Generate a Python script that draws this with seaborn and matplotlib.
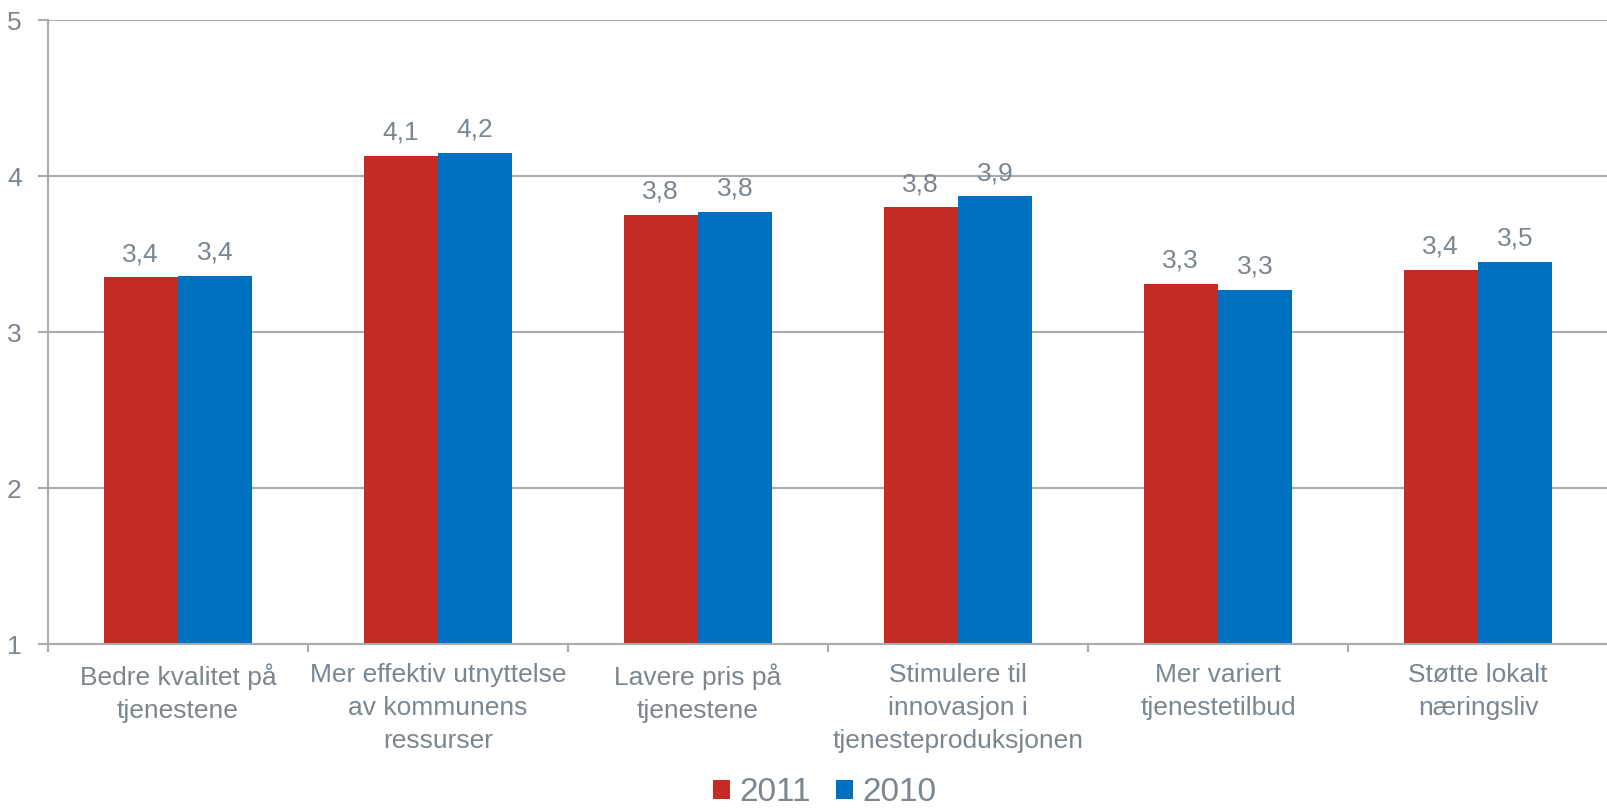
import pandas as pd
import seaborn as sns
import matplotlib.pyplot as plt
from matplotlib.ticker import FixedLocator

# Data
kategorier = [
    "Bedre kvalitet på\ntjenestene",
    "Mer effektiv utnyttelse\nav kommunens\nressurser",
    "Lavere pris på\ntjenestene",
    "Stimulere til\ninnovasjon i\ntjenesteproduksjonen",
    "Mer variert\ntjenestetilbud",
    "Støtte lokalt\nnæringsliv",
]
verdier_2011 = [3.35, 4.13, 3.75, 3.80, 3.31, 3.40]
verdier_2010 = [3.36, 4.15, 3.77, 3.87, 3.27, 3.45]
aar = ["2011", "2010"]
farger = ["#C42B25", "#0070C0"]

TEKST = "#7A8690"
GRID = "#A9ACAF"

df = pd.DataFrame({
    "kategori": kategorier * 2,
    "aar": [aar[0]] * len(kategorier) + [aar[1]] * len(kategorier),
    "verdi": verdier_2011 + verdier_2010,
})

sns.set_style("white")
plt.rcParams["font.family"] = ["Liberation Sans", "DejaVu Sans"]

fig = plt.figure(figsize=(16.08, 8.09), dpi=100)
ax = fig.add_axes([48 / 1608, 1 - 644 / 809, 1 - 48 / 1608, (644 - 20) / 809])

sns.barplot(data=df, x="kategori", y="verdi", hue="aar", palette=farger,
            width=0.573, saturation=1, linewidth=0, ax=ax, legend=True)

ax.set_ylim(1, 5)
ax.set_xlim(-0.5, len(kategorier) - 0.5)
ax.set_yticks([1, 2, 3, 4, 5])
ax.yaxis.grid(True, color=GRID, linewidth=1.5)
ax.set_axisbelow(True)
ax.set_xlabel("")
ax.set_ylabel("")

for s in ["top", "right"]:
    ax.spines[s].set_visible(False)
for s in ["left", "bottom"]:
    ax.spines[s].set_color(GRID)
    ax.spines[s].set_linewidth(1.5)

# verdietiketter
for cont in ax.containers:
    ax.bar_label(cont, labels=[f"{b.get_height():.1f}".replace(".", ",") for b in cont],
                 padding=8, color=TEKST, fontsize=19)

ax.tick_params(axis="y", left=True, colors=GRID, labelcolor=TEKST, labelsize=19,
               length=7, width=1.5, pad=12)
ax.tick_params(axis="x", which="major", bottom=True, length=0, labelcolor=TEKST,
               labelsize=19, pad=14)
ax.xaxis.set_minor_locator(FixedLocator([i + 0.5 for i in range(len(kategorier) - 1)] + [-0.5]))
ax.tick_params(axis="x", which="minor", bottom=True, length=6, width=1.5, color=GRID)
for lab in ax.get_xticklabels():
    lab.set_linespacing(1.46)

handles, labels = ax.get_legend_handles_labels()
ax.legend(handles, labels, loc="lower center", bbox_to_anchor=(0.513, -0.036),
          bbox_transform=fig.transFigure, ncol=2, frameon=False,
          fontsize=24, labelcolor=TEKST, handlelength=0.5, handleheight=0.5,
          handletextpad=0.3, columnspacing=0.75)

fig.savefig("out.png", dpi=100)
